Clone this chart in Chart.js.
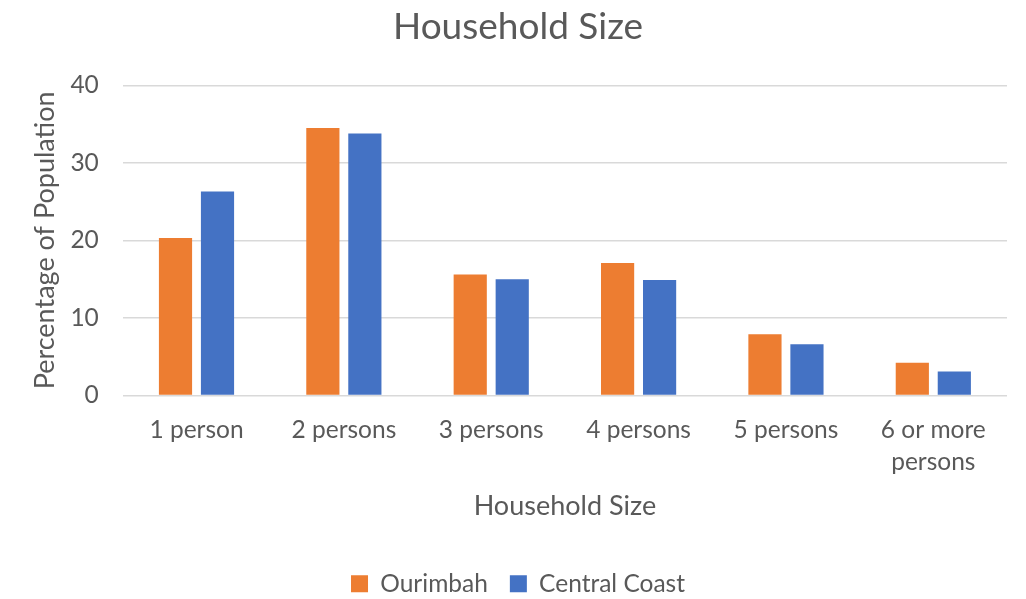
<!DOCTYPE html>
<html>
<head>
<meta charset="utf-8">
<style>
html,body{margin:0;padding:0;background:#fff;}
#wrap{width:1026px;height:599px;}
</style>
<script src="https://cdn.jsdelivr.net/npm/chart.js@4/dist/chart.umd.min.js"></script>
</head>
<body>
<div id="wrap"><canvas id="c" width="1026" height="599"></canvas></div>
<script>
const categories = ["1 person", "2 persons", "3 persons", "4 persons", "5 persons", ["6 or more", "persons"]];
const ourimbah = [20.3, 34.5, 15.6, 17.1, 7.9, 4.2];
const centralCoast = [26.3, 33.8, 15.0, 14.9, 6.6, 3.1];
const yTicks = [0, 10, 20, 30, 40];

const FONT = "Lato, 'Liberation Sans', sans-serif";
const TXT = '#595959';

new Chart(document.getElementById('c'), {
  type: 'bar',
  data: {
    labels: categories,
    datasets: [
      {label: 'Ourimbah', data: ourimbah, backgroundColor: '#ED7D31', borderWidth: 0},
      {label: 'Central Coast', data: centralCoast, backgroundColor: '#4472C4', borderWidth: 0}
    ]
  },
  options: {
    responsive: false,
    animation: false,
    devicePixelRatio: 1,
    layout: {padding: {left: 29, right: 19, top: 5, bottom: -7}},
    datasets: {bar: {categoryPercentage: 0.57, barPercentage: 0.79}},
    plugins: {
      title: {display: true, text: 'Household Size', color: TXT,
        font: {family: FONT, size: 37, weight: 'normal'}, padding: {top: 0, bottom: 36}},
      legend: {position: 'bottom', labels: {color: TXT, boxWidth: 17, boxHeight: 17,
        font: {family: FONT, size: 24.5}, padding: 22}},
      tooltip: {enabled: false}
    },
    scales: {
      x: {
        grid: {display: false, drawTicks: false},
        border: {display: false},
        ticks: {color: TXT, font: {family: FONT, size: 24.5, lineHeight: 1.3}, padding: 19, maxRotation: 0, autoSkip: false},
        title: {display: true, text: 'Household Size', color: TXT, font: {family: FONT, size: 27}, padding: {top: -7, bottom: 27}}
      },
      y: {
        min: 0, max: 40,
        afterBuildTicks: (ax) => { ax.ticks = yTicks.map(v => ({value: v})); },
        grid: {color: '#d9d9d9', lineWidth: 1.5, drawTicks: false},
        border: {display: false},
        ticks: {color: TXT, font: {family: FONT, size: 24.5}, padding: 24},
        title: {display: true, text: 'Percentage of Population', color: TXT, font: {family: FONT, size: 27}, padding: {top: 0, bottom: -15}}
      }
    }
  }
});
</script>
</body>
</html>
